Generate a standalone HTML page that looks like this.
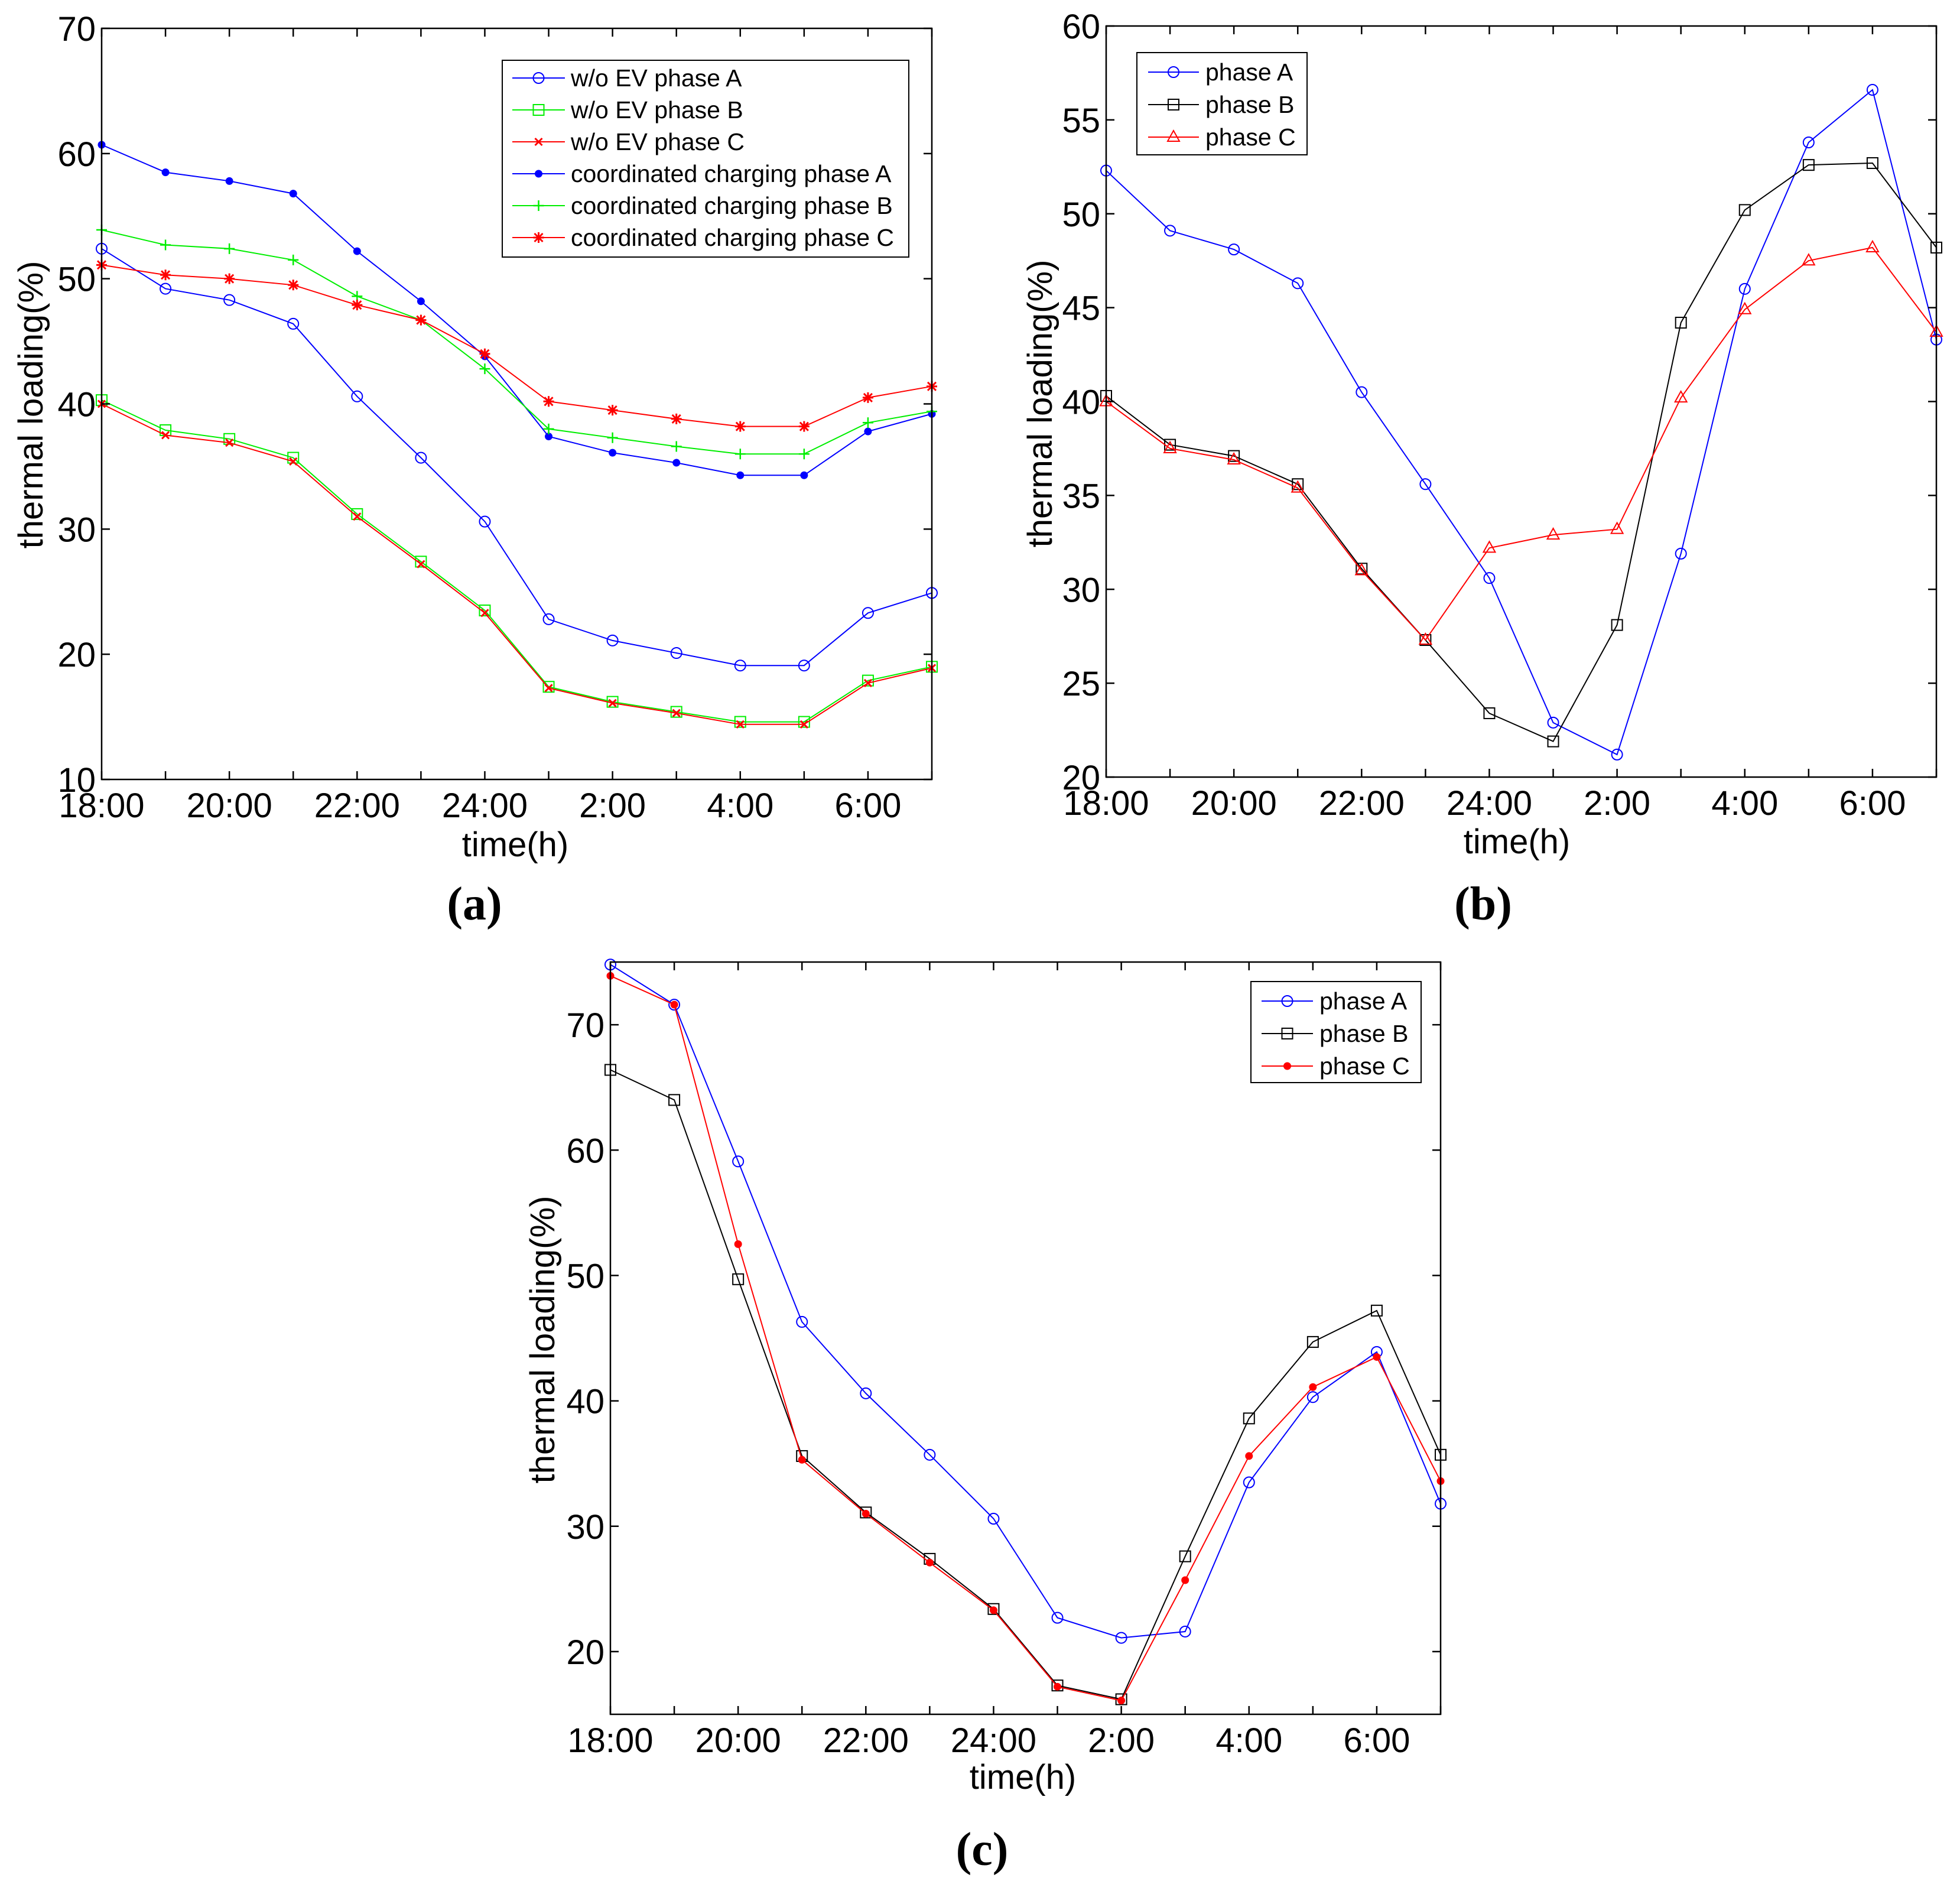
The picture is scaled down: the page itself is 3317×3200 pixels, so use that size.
<!DOCTYPE html>
<html><head><meta charset="utf-8"><title>Thermal loading charts</title>
<style>
html,body{margin:0;padding:0;background:#fff;}
svg{display:block;font-family:"Liberation Sans",Arial,sans-serif;}
</style></head>
<body>
<svg id="chart" width="3317" height="3200" viewBox="0 0 3317 3200" xmlns="http://www.w3.org/2000/svg"></svg>
<script>
// ---------- data ----------
const hours = ["18:00","19:00","20:00","21:00","22:00","23:00","24:00","1:00","2:00","3:00","4:00","5:00","6:00","7:00"];
const xTickLabels = ["18:00","20:00","22:00","24:00","2:00","4:00","6:00"];
const aYTicks = [10,20,30,40,50,60,70];
const bYTicks = [20,25,30,35,40,45,50,55,60];
const cYTicks = [20,30,40,50,60,70];

const aWoA = [52.4,49.2,48.3,46.4,40.6,35.7,30.6,22.8,21.1,20.1,19.1,19.1,23.3,24.9];
const aWoB = [40.3,37.9,37.2,35.7,31.2,27.4,23.5,17.4,16.2,15.4,14.6,14.6,17.9,19.0];
const aWoC = [40.0,37.5,36.9,35.4,31.0,27.2,23.3,17.3,16.1,15.3,14.4,14.4,17.7,18.9];
const aCcA = [60.7,58.5,57.8,56.8,52.2,48.2,43.8,37.4,36.1,35.3,34.3,34.3,37.8,39.2];
const aCcB = [53.9,52.7,52.4,51.5,48.6,46.7,42.8,38.0,37.3,36.6,36.0,36.0,38.5,39.4];
const aCcC = [51.1,50.3,50.0,49.5,47.9,46.7,44.0,40.2,39.5,38.8,38.2,38.2,40.5,41.4];

const bA = [52.3,49.1,48.1,46.3,40.5,35.6,30.6,22.9,21.2,31.9,46.0,53.8,56.6,43.3];
const bB = [40.3,37.7,37.1,35.6,31.1,27.3,23.4,21.9,28.1,44.2,50.2,52.6,52.7,48.2];
const bC = [40.0,37.5,36.9,35.4,31.0,27.3,32.2,32.9,33.2,40.2,44.9,47.5,48.2,43.7];

const cA = [74.8,71.6,59.1,46.3,40.6,35.7,30.6,22.7,21.1,21.6,33.5,40.3,43.9,31.8];
const cB = [66.4,64.0,49.7,35.6,31.1,27.4,23.4,17.3,16.2,27.6,38.6,44.7,47.2,35.7];
const cC = [73.9,71.6,52.5,35.3,31.0,27.1,23.3,17.2,16.1,25.7,35.6,41.1,43.5,33.6];

// ---------- helpers ----------
const NS="http://www.w3.org/2000/svg";
const svg=document.getElementById('chart');
function mk(tag,attrs,parent){const e=document.createElementNS(NS,tag);for(const k in attrs)e.setAttribute(k,attrs[k]);(parent||svg).appendChild(e);return e;}

function marker(g,type,x,y,color){
  let m;
  if(type==='circle'){m=mk('circle',{cx:x,cy:y,r:9,fill:'none',stroke:color,'stroke-width':2},g);}
  else if(type==='dot'){m=mk('circle',{cx:x,cy:y,r:6.5,fill:color,stroke:'none'},g);}
  else if(type==='square'){m=mk('rect',{x:x-9,y:y-9,width:18,height:18,fill:'none',stroke:color,'stroke-width':2},g);}
  else if(type==='triangle'){m=mk('polygon',{points:`${x},${y-11} ${x-10},${y+7} ${x+10},${y+7}`,fill:'none',stroke:color,'stroke-width':2},g);}
  else if(type==='plus'){m=mk('path',{d:`M${x-9},${y}H${x+9}M${x},${y-9}V${y+9}`,stroke:color,'stroke-width':2.5,fill:'none'},g);}
  else if(type==='x'){m=mk('path',{d:`M${x-6},${y-6}L${x+6},${y+6}M${x-6},${y+6}L${x+6},${y-6}`,stroke:color,'stroke-width':3,fill:'none'},g);}
  else if(type==='star'){m=mk('path',{d:`M${x-7},${y-7}L${x+7},${y+7}M${x-7},${y+7}L${x+7},${y-7}M${x},${y-9}V${y+9}M${x-9},${y}H${x+9}`,stroke:color,'stroke-width':3,fill:'none'},g);}
  
  
}

function panel(p){
  const g=mk('g',{});
  
  
  const X=i=>p.left+(p.right-p.left)*i/(hours.length-1);
  const Y=v=>p.bottom-(v-p.ymin)/(p.ymax-p.ymin)*(p.bottom-p.top);
  p.series.forEach(s=>{
    const sg=mk('g',{},g);
    
    
    const pts=s.data.map((v,i)=>X(i).toFixed(1)+','+Y(v).toFixed(1)).join(' ');
    const pl=mk('polyline',{points:pts,fill:'none',stroke:s.color,'stroke-width':2},sg);
    
    
    s.data.forEach((v,i)=>marker(sg,s.marker,X(i),Y(v),s.color));
  });
  const box=mk('rect',{x:p.left,y:p.top,width:p.right-p.left,height:p.bottom-p.top,fill:'none',stroke:'#000','stroke-width':2.5},g);
  
  
  hours.forEach((h,i)=>{
    const x=X(i);
    const t=mk('path',{d:`M${x},${p.bottom}V${p.bottom-14}M${x},${p.top}V${p.top+14}`,stroke:'#000','stroke-width':2.5},g);
    
    
    if(xTickLabels.includes(h)){
      const tx=mk('text',{x:x,y:p.bottom+64,'font-size':58,'text-anchor':'middle',fill:'#000'},g);
      
      
      tx.textContent=h;
    }
  });
  p.yticks.forEach(v=>{
    const y=Y(v);
    const t=mk('path',{d:`M${p.left},${y}H${p.left+14}M${p.right},${y}H${p.right-14}`,stroke:'#000','stroke-width':2.5},g);
    
    
    const tx=mk('text',{x:p.left-10,y:y+21,'font-size':58,'text-anchor':'end',fill:'#000'},g);
    
    
    tx.textContent=v;
  });
  const yt=mk('text',{x:p.ylx,y:p.yly,'font-size':58,'text-anchor':'middle',transform:`rotate(-90 ${p.ylx} ${p.yly})`,fill:'#000'},g);
  
  
  yt.textContent='thermal loading(%)';
  const xt=mk('text',{x:p.xlx,y:p.xly,'font-size':58,'text-anchor':'middle',fill:'#000'},g);
  
  
  xt.textContent='time(h)';
  const pl=mk('text',{x:p.plx,y:p.ply,'font-size':80,'font-weight':'bold','text-anchor':'middle','font-family':'"Liberation Serif",serif',fill:'#000'},g);
  
  
  pl.textContent=p.label;
  const L=p.legend;
  const lg=mk('g',{},g);
  
  
  mk('rect',{x:L.x,y:L.y,width:L.w,height:L.h,fill:'#fff',stroke:'#000','stroke-width':2},lg);
  p.series.forEach((s,i)=>{
    const y=L.y0+i*L.dy;
    const eg=mk('g',{},lg);
    
    
    mk('line',{x1:L.lx1,x2:L.lx2,y1:y,y2:y,stroke:s.color,'stroke-width':2},eg);
    marker(eg,s.marker,(L.lx1+L.lx2)/2,y,s.color);
    const t=mk('text',{x:L.tx,y:y+14,'font-size':L.fs,fill:'#000'},eg);
    t.textContent=s.label;
  });
}

panel({name:'panel-a',label:'(a)',left:172,right:1577,top:48,bottom:1319,ymin:10,ymax:70,yticks:aYTicks,
  ylx:72,yly:685,xlx:872,xly:1449,plx:803,ply:1556,
  legend:{x:850,y:102,w:688,h:333,y0:132,dy:54,lx1:867,lx2:956,tx:966,fs:41},
  series:[
    {id:'wo-ev-phase-a',label:'w/o EV phase A',data:aWoA,color:'#0000ff',marker:'circle'},
    {id:'wo-ev-phase-b',label:'w/o EV phase B',data:aWoB,color:'#00ee00',marker:'square'},
    {id:'wo-ev-phase-c',label:'w/o EV phase C',data:aWoC,color:'#ff0000',marker:'x'},
    {id:'coordinated-phase-a',label:'coordinated charging phase A',data:aCcA,color:'#0000ff',marker:'dot'},
    {id:'coordinated-phase-b',label:'coordinated charging phase B',data:aCcB,color:'#00ee00',marker:'plus'},
    {id:'coordinated-phase-c',label:'coordinated charging phase C',data:aCcC,color:'#ff0000',marker:'star'}
  ]});

panel({name:'panel-b',label:'(b)',left:1872,right:3277,top:44,bottom:1315,ymin:20,ymax:60,yticks:bYTicks,
  ylx:1780,yly:683,xlx:2567,xly:1444,plx:2510,ply:1556,
  legend:{x:1924,y:89,w:288,h:173,y0:122,dy:55,lx1:1943,lx2:2029,tx:2040,fs:41},
  series:[
    {id:'phase-a',label:'phase A',data:bA,color:'#0000ff',marker:'circle'},
    {id:'phase-b',label:'phase B',data:bB,color:'#000000',marker:'square'},
    {id:'phase-c',label:'phase C',data:bC,color:'#ff0000',marker:'triangle'}
  ]});

panel({name:'panel-c',label:'(c)',left:1033,right:2438,top:1628,bottom:2901,ymin:15,ymax:75,yticks:cYTicks,
  ylx:938,yly:2267,xlx:1731,xly:3027,plx:1662,ply:3156,
  legend:{x:2117,y:1661,w:288,h:171,y0:1694,dy:55,lx1:2135,lx2:2222,tx:2233,fs:41},
  series:[
    {id:'phase-a',label:'phase A',data:cA,color:'#0000ff',marker:'circle'},
    {id:'phase-b',label:'phase B',data:cB,color:'#000000',marker:'square'},
    {id:'phase-c',label:'phase C',data:cC,color:'#ff0000',marker:'dot'}
  ]});
</script>
</body></html>
